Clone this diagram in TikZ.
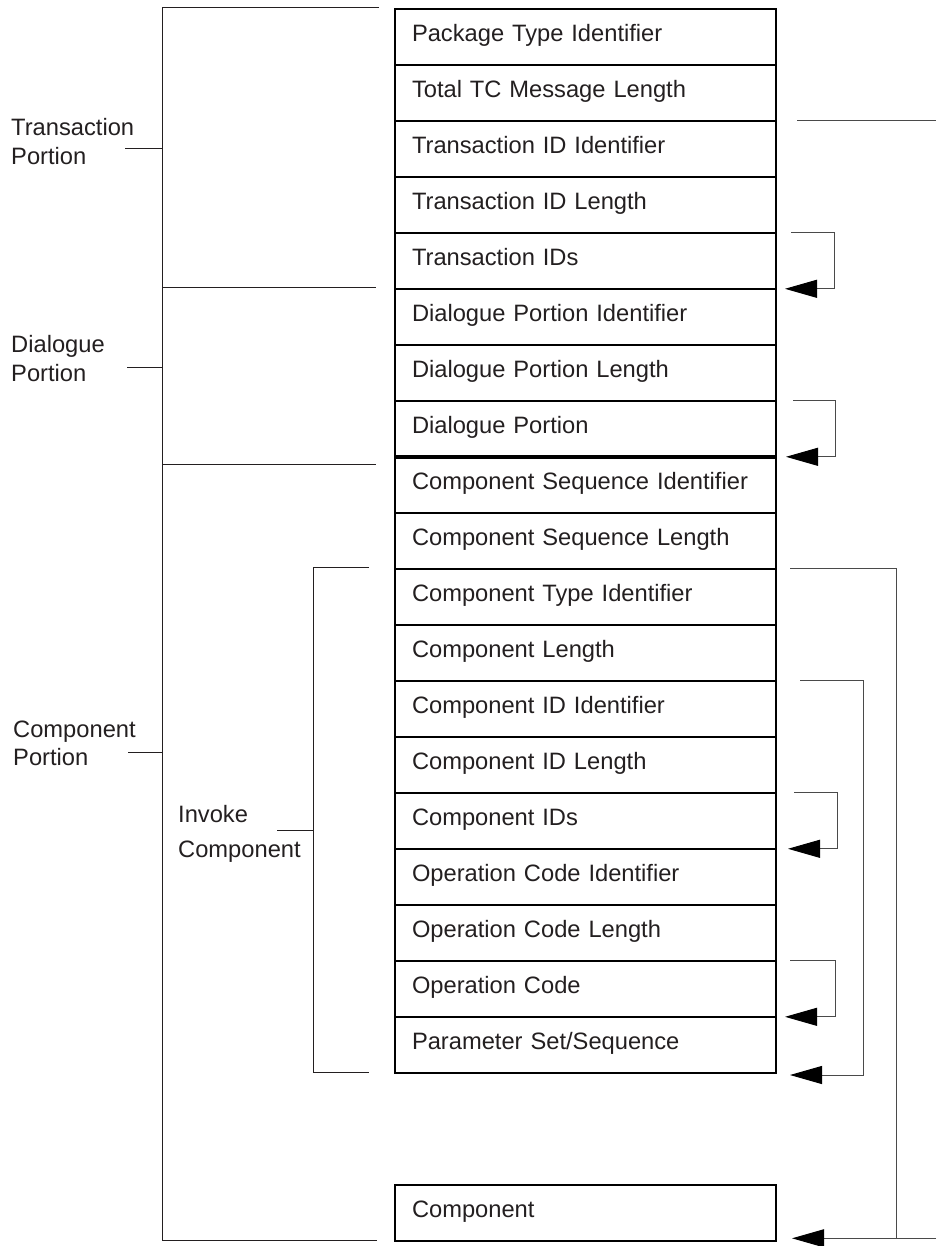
\documentclass[tikz,border=0pt]{standalone}
\usepackage{fontspec}
\setmainfont{Liberation Sans}
\usetikzlibrary{arrows.meta}
\definecolor{textc}{HTML}{231F20}
\definecolor{linec}{HTML}{4A4A4A}
\begin{document}
\begin{tikzpicture}[x=1pt,y=-1pt,
  rowbox/.style={draw=black, line width=1.6pt, anchor=north west, outer sep=0pt,
    minimum width=381pt, minimum height=56pt, text width=347pt,
    inner xsep=17pt, inner ysep=0pt, text height=32.5pt, text depth=23.5pt,
    align=left, font=\fontsize{23.7}{28}\selectfont, text=textc},
  conn/.style={draw=linec, line width=1pt},
  arr/.style={conn, -{Triangle[length=32pt,width=18pt,color=black,fill=black]}},
  brk/.style={draw=textc, line width=1pt},
  lbl/.style={anchor=north west, inner sep=0pt, align=left, text=textc}]
\useasboundingbox (0,0) rectangle (936,1246);
% field rows
\node[rowbox] (r1)  at (395,8.8)    {Package Type Identifier};
\node[rowbox] (r2)  at (395,64.8)   {Total TC Message Length};
\node[rowbox] (r3)  at (395,120.8)  {Transaction ID Identifier};
\node[rowbox] (r4)  at (395,176.8)  {Transaction ID Length};
\node[rowbox] (r5)  at (395,232.8)  {Transaction IDs};
\node[rowbox] (r6)  at (395,288.8)  {Dialogue Portion Identifier};
\node[rowbox] (r7)  at (395,344.8)  {Dialogue Portion Length};
\node[rowbox] (r8)  at (395,400.8)  {Dialogue Portion};
\node[rowbox] (r9)  at (395,456.8)  {Component Sequence Identifier};
\node[rowbox] (r10) at (395,512.8)  {Component Sequence Length};
\node[rowbox] (r11) at (395,568.8)  {Component Type Identifier};
\node[rowbox] (r12) at (395,624.8)  {Component Length};
\node[rowbox] (r13) at (395,680.8)  {Component ID Identifier};
\node[rowbox] (r14) at (395,736.8)  {Component ID Length};
\node[rowbox] (r15) at (395,792.8)  {Component IDs};
\node[rowbox] (r16) at (395,848.8)  {Operation Code Identifier};
\node[rowbox] (r17) at (395,904.8)  {Operation Code Length};
\node[rowbox] (r18) at (395,960.8)  {Operation Code};
\node[rowbox] (r19) at (395,1016.8) {Parameter Set/Sequence};
\node[rowbox] (comp) at (395,1184.7) {Component};
% thick separator
\draw[line width=3.5pt] (r8.south west) -- (r8.south east);

% left labels
\node[lbl, font=\fontsize{23.7}{29}\selectfont] (lt) at (11,118) {Transaction\\Portion};
\node[lbl, font=\fontsize{23.7}{29}\selectfont] (ld) at (11,335) {Dialogue\\Portion};
\node[lbl, font=\fontsize{23.7}{28}\selectfont] (lc) at (13,721) {Component\\Portion};
\node[lbl, font=\fontsize{23.7}{35}\selectfont] (li) at (178,805) {Invoke\\Component};

% left brackets
\draw[brk] (379,7.7) -- (162,7.7) -- (162,1240) -- (377,1240);
\draw[brk] (162,288) -- (376,288);
\draw[brk] (162,464) -- (376,464);
\draw[brk] (125,149) -- (162,149);
\draw[brk] (127,367) -- (162,367);
\draw[brk] (128,752) -- (162,752);
\draw[brk] (369,567) -- (313,567) -- (313,1072) -- (369,1072);
\draw[brk] (277,830.7) -- (313,830.7);

% right connectors
\coordinate (eTC) at (936,120.8);
\draw[conn] ([xshift=21]r2.south east) -- (eTC);
\draw[arr] ([xshift=15]r5.north east) -- (834,232.8) |- ([xshift=9]r5.south east);
\draw[arr] ([xshift=17]r8.north east) -- (835,400.8) |- ([xshift=10]r8.south east);
\draw[arr] ([xshift=18]r15.north east) -- (837,792.8) |- ([xshift=12]r15.south east);
\draw[arr] ([xshift=14]r18.north east) -- (835,960.8) |- ([xshift=9]r18.south east);
\draw[arr] ([xshift=24]r13.north east) -- (863,680.8) |- ([xshift=14,yshift=-2.2]r19.south east);
\coordinate (eComp) at (936,1238.3);
\draw[conn] ([xshift=14]r11.north east) -- (896,568.8) -- (896,1238.3);
\draw[arr] (eComp) -- ([xshift=16,yshift=2.4]comp.south east);
\end{tikzpicture}
\end{document}
